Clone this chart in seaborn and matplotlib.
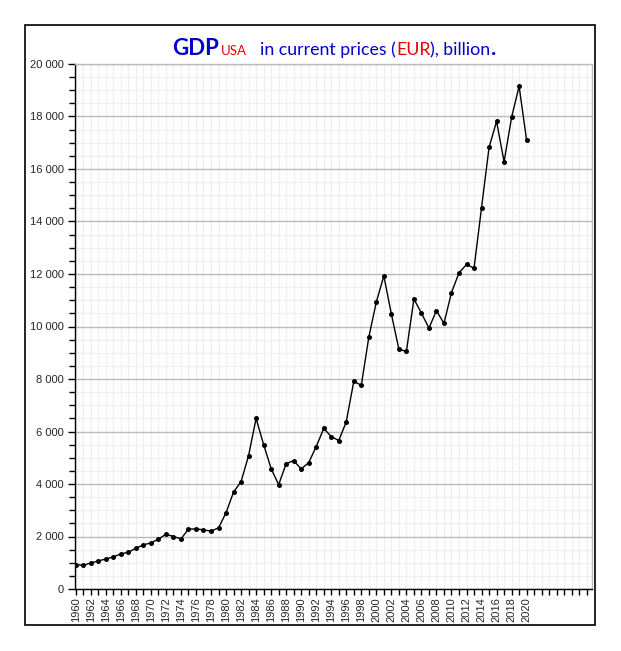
import matplotlib
matplotlib.use("Agg")
import matplotlib.pyplot as plt
import seaborn as sns
import pandas as pd
from matplotlib.ticker import MultipleLocator, FuncFormatter
from matplotlib.patches import Rectangle

years = list(range(1960, 2021))
gdp = [929, 902, 991, 1068, 1144, 1221, 1336, 1400, 1553, 1680,
       1757, 1897, 2088, 2000, 1910, 2280, 2291, 2253, 2203, 2330,
       2903, 3694, 4089, 5083, 6497, 5503, 4585, 3973, 4776, 4891,
       4573, 4814, 5426, 6115, 5809, 5656, 6371, 7912, 7759, 9595,
       10933, 11927, 10474, 9136, 9048, 11048, 10512, 9938, 10604, 10118,
       11292, 12042, 12363, 12221, 14527, 16822, 17816, 16275, 17969, 19154,
       17090]
x_label_years = list(range(1960, 2021, 2))
y_ticks = list(range(0, 20001, 2000))

df = pd.DataFrame({"year": years, "gdp": gdp})

sns.set_style("white")
plt.rcParams['font.family'] = ['Liberation Sans', 'DejaVu Sans']

W, H = 621, 651
fig = plt.figure(figsize=(W / 100, H / 100), dpi=100)
ax = fig.add_axes([75 / W, 1 - 589 / H, (592 - 75) / W, (589 - 64) / H])

sns.lineplot(data=df, x="year", y="gdp", ax=ax, color="black", linewidth=1.0,
             marker="o", markersize=3.6, markeredgewidth=0, zorder=5)

ax.set_xlim(1959.9, 2028.7)
ax.set_ylim(0, 20000)
ax.set_xlabel("")
ax.set_ylabel("")

ax.set_xticks(list(range(1960, 2029)), minor=True)
ax.set_xticks(x_label_years)
ax.set_xticklabels([str(y) for y in x_label_years], rotation=90, fontsize=8)
ax.set_yticks(y_ticks)
ax.yaxis.set_minor_locator(MultipleLocator(500))
ax.yaxis.set_major_formatter(FuncFormatter(lambda v, p: f"{int(v):,}".replace(",", " ")))
ax.tick_params(axis="y", labelsize=8, length=5, width=1, color="black", direction="out", pad=3)
ax.tick_params(axis="y", which="minor", length=4, width=1, color="black", direction="out")
ax.tick_params(axis="x", which="both", length=4, width=1, color="black", direction="out", pad=2)
ax.tick_params(axis="both", which="both", left=True, bottom=True)

ax.grid(which="minor", color="#f0f0f0", linewidth=1, zorder=0)
ax.grid(which="major", axis="x", color="#f0f0f0", linewidth=1, zorder=0)
ax.grid(which="major", axis="y", color="#bbbbbb", linewidth=1, zorder=1)
ax.set_axisbelow(True)

for s in ["top", "right"]:
    ax.spines[s].set_color("#bbbbbb")
    ax.spines[s].set_linewidth(1)
for s in ["left", "bottom"]:
    ax.spines[s].set_color("black")
    ax.spines[s].set_linewidth(1)

# outer frame
fig.patches.append(Rectangle((25 / W, 1 - 625 / H), (595 - 25) / W, (625 - 25) / H,
                             transform=fig.transFigure, fill=False,
                             edgecolor="black", linewidth=1.2))

# title composed of pieces
blue = "#0000cc"
red = "#ee0000"
tfont = ["Lato", "DejaVu Sans"]
renderer = fig.canvas.get_renderer()
base_y = 1 - 55 / H


def piece(x, txt, col, size, weight):
    t = fig.text(x / W, base_y, txt, color=col, fontsize=size,
                 fontweight=weight, family=tfont, ha="left", va="baseline")
    return x + t.get_window_extent(renderer=renderer).width


x = piece(172, "GDP", blue, 16, "bold")
x = piece(x + 2, "USA", red, 9.5, "normal")
x = piece(260, "in current prices (", blue, 12.8, "normal")
x = piece(x, "EUR", red, 12.8, "normal")
x = piece(x, "), billion", blue, 12.8, "normal")
x = piece(x, ".", blue, 16, "bold")

fig.savefig("out.png", dpi=100)
